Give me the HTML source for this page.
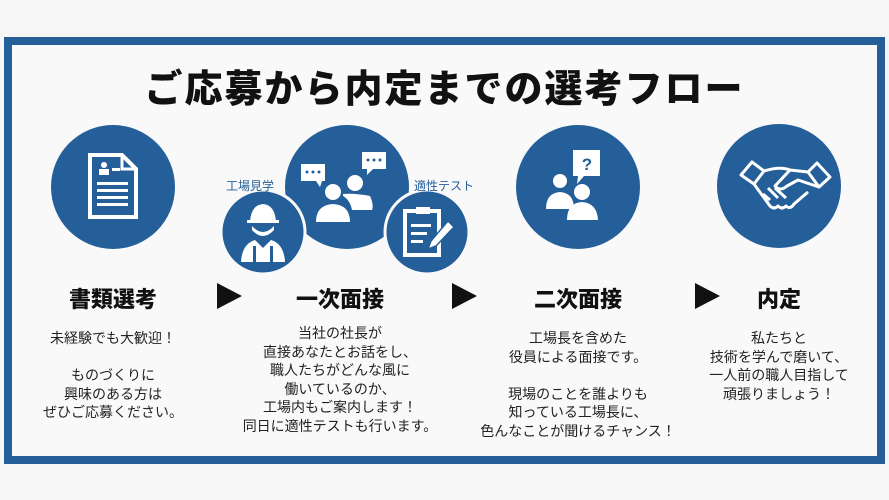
<!DOCTYPE html>
<html><head><meta charset="utf-8"><style>
body{margin:0;width:889px;height:500px;background:#f6f6f6;position:relative;overflow:hidden;font-family:"Liberation Sans","Noto Sans CJK JP",sans-serif;}
.frame{position:absolute;left:4px;top:37px;width:865px;height:411px;border:8px solid #245f99;background:#f9f9f9;}
.t{position:absolute;text-align:center;white-space:nowrap;color:#222;}
.title{left:0;width:889px;top:58px;font-size:38px;font-weight:900;color:#111;letter-spacing:2px;}
.h{font-size:22px;font-weight:900;color:#111;top:282px;}
.b{font-size:14px;line-height:18.6px;color:#222;}
.s{font-size:12px;color:#245f99;}
</style></head><body>
<div class="frame"></div>
<div class="t title">ご応募から内定までの選考フロー</div>
<svg width="889" height="500" style="position:absolute;left:0;top:0">
<g fill="#245f99">
<circle cx="113" cy="187" r="62"/>
<circle cx="347" cy="187" r="62"/>
<circle cx="263" cy="232" r="42" stroke="#f9f9f9" stroke-width="3"/>
<circle cx="427" cy="232" r="42" stroke="#f9f9f9" stroke-width="3"/>
<circle cx="578" cy="187" r="62"/>
<circle cx="779" cy="186" r="62"/>
</g>
<path d="M90 155 H122 L136 169 V217 H90 Z" fill="none" stroke="#fff" stroke-width="4"/>
<path d="M122 155 V169 H136" fill="none" stroke="#fff" stroke-width="3"/>
<circle cx="104" cy="165" r="3" fill="#fff"/><rect x="99" y="169" width="10" height="6" fill="#fff"/>
<g fill="#fff"><rect x="97" y="182" width="31" height="3"/><rect x="97" y="189" width="31" height="3"/><rect x="97" y="196" width="31" height="3"/><rect x="97" y="203" width="31" height="3"/><rect x="112" y="168" width="8" height="3"/></g>
<g fill="#fff">
<rect x="301" y="164" width="24" height="17"/><path d="M316 181 L322 181 L320 187Z"/>
<rect x="362" y="152" width="24" height="17"/><path d="M367 169 L373 169 L367 175Z"/>
<circle cx="333" cy="192" r="8"/><path d="M316 222 Q316 205 333 204 Q350 205 350 222Z"/>
<circle cx="355" cy="183" r="8"/><path d="M343 194 Q355 193 370 196 Q374 205 372 210 H352 Q350 200 343 196Z"/>
</g>
<g fill="#245f99"><circle cx="307" cy="172" r="1.5"/><circle cx="313" cy="172" r="1.5"/><circle cx="319" cy="172" r="1.5"/><circle cx="368" cy="160" r="1.5"/><circle cx="374" cy="160" r="1.5"/><circle cx="380" cy="160" r="1.5"/></g>
<g fill="#fff"><path d="M250 222 Q251 205 263 204 Q275 205 276 222Z"/><rect x="247" y="220" width="32" height="3"/>
<path d="M252 226 Q263 238 274 226 V230 Q263 242 252 230Z"/>
<path d="M241 262 Q242 244 255 240 L263 248 L271 240 Q284 244 285 262Z"/></g>
<g fill="#245f99"><rect x="253" y="246" width="3" height="16"/><rect x="270" y="246" width="3" height="16"/></g>
<rect x="405" y="211" width="34" height="44" fill="none" stroke="#fff" stroke-width="4"/>
<rect x="416" y="207" width="14" height="7" fill="#fff"/>
<g fill="#fff"><rect x="411" y="224" width="20" height="3"/><rect x="411" y="232" width="16" height="3"/><rect x="411" y="240" width="12" height="3"/></g>
<path d="M448 221 L454 227 L436 246 L428 249 L431 241Z" fill="#fff" stroke="#245f99" stroke-width="1.5"/>
<rect x="573" y="150" width="27" height="26" fill="#fff"/><path d="M578 176 L584 176 L577 184Z" fill="#fff"/>
<text x="587" y="170" font-size="17" font-weight="bold" fill="#245f99" text-anchor="middle" font-family="Liberation Sans">?</text>
<g fill="#fff"><circle cx="560" cy="181" r="7"/><path d="M546 209 Q546 193 560 192 Q574 193 574 209Z"/>
<circle cx="582" cy="192" r="8"/><path d="M567 220 Q567 203 582 202 Q597 203 598 220Z"/></g>
<g fill="none" stroke="#fff" stroke-width="3" stroke-linejoin="round">
<path d="M741 175 L752 162 L764 171 L754 184Z"/>
<path d="M817 163 L830 177 L819 187 L808 172Z"/>
<path d="M764 171 Q780 166 790 170 L808 172"/>
<path d="M790 170 L775 186 Q780 192 787 186 L798 180 L819 187"/>
<path d="M754 184 L770 206 Q774 210 778 206 Q782 210 786 206 Q790 210 794 204 L808 192"/>
<path d="M763 194 L770 200 M768 188 L778 198 M775 188 L786 198"/>
</g>
<g fill="#111"><path d="M217 283 L242 296 L217 309Z"/><path d="M452 283 L477 296 L452 309Z"/><path d="M695 283 L720 296 L695 309Z"/></g>
</svg>
<div class="t s" style="left:226px;top:177px">工場見学</div>
<div class="t s" style="left:333px;top:136px">面接</div>
<div class="t s" style="left:414px;top:177px">適性テスト</div>
<div class="t h" style="left:13px;width:200px">書類選考</div>
<div class="t h" style="left:240px;width:200px">一次面接</div>
<div class="t h" style="left:478px;width:200px">二次面接</div>
<div class="t h" style="left:679px;width:200px">内定</div>
<div class="t b" style="left:13px;width:200px;top:329px">未経験でも大歓迎！<br><br>ものづくりに<br>興味のある方は<br>ぜひご応募ください。</div>
<div class="t b" style="left:240px;width:200px;top:324px">当社の社長が<br>直接あなたとお話をし、<br>職人たちがどんな風に<br>働いているのか、<br>工場内もご案内します！<br>同日に適性テストも行います。</div>
<div class="t b" style="left:478px;width:200px;top:329px">工場長を含めた<br>役員による面接です。<br><br>現場のことを誰よりも<br>知っている工場長に、<br>色んなことが聞けるチャンス！</div>
<div class="t b" style="left:679px;width:200px;top:329px">私たちと<br>技術を学んで磨いて、<br>一人前の職人目指して<br>頑張りましょう！</div>
</body></html>
